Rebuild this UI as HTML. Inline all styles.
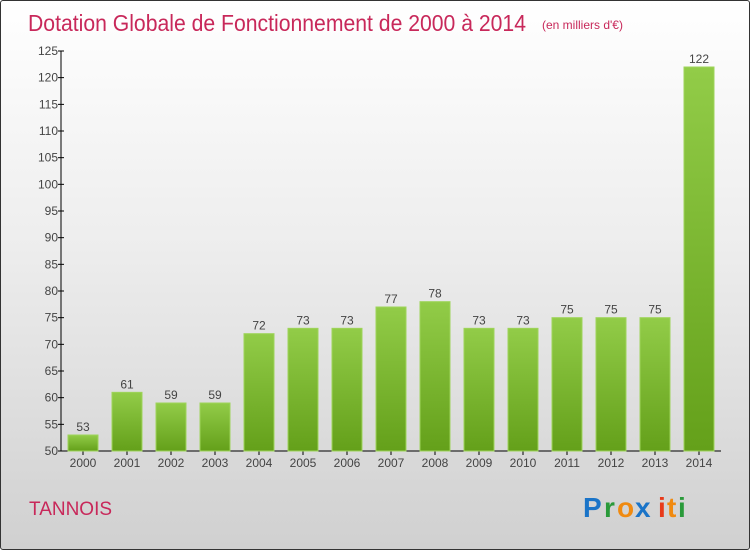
<!DOCTYPE html>
<html><head><meta charset="utf-8"><style>
body{margin:0;}
#c{width:750px;height:550px;position:relative;overflow:hidden;box-sizing:border-box;border:1px solid #333;border-radius:3px;background:linear-gradient(#ffffff 0%,#ededed 45%,#d0d0d0 100%);font-family:"Liberation Sans",sans-serif;}
</style></head><body>
<div id="c">
<svg width="750" height="550" style="position:absolute;left:0;top:0">
<defs><linearGradient id="g" x1="0" y1="0" x2="0" y2="1"><stop offset="0" stop-color="#92cc48"/><stop offset="1" stop-color="#64a01a"/></linearGradient></defs>
<text x="27" y="30" font-size="23" fill="#c8285a" textLength="498" lengthAdjust="spacingAndGlyphs">Dotation Globale de Fonctionnement de 2000 à 2014</text>
<text x="541" y="28" font-size="12" fill="#c8285a">(en milliers d'€)</text>
<g id="axes"></g><g id="bars"></g>
<text x="28" y="514" font-size="19" fill="#c8285a">TANNOIS</text>
<g font-size="28" font-weight="bold">
<text x="582" y="516" fill="#1a74c8">P</text><text x="603" y="516" fill="#2a9a3a">r</text><text x="616" y="516" fill="#f08a10">o</text><text x="634" y="516" fill="#1a74c8">x</text><text x="657" y="516" fill="#e83a1a">i</text><text x="666" y="516" fill="#f08a10">t</text><text x="677" y="516" fill="#2a9a3a">i</text>
</g>
</svg>
</div>
<script>
const years=["2000","2001","2002","2003","2004","2005","2006","2007","2008","2009","2010","2011","2012","2013","2014"];
const values=[53,61,59,59,72,73,73,77,78,73,73,75,75,75,122];
const yTicks=[50,55,60,65,70,75,80,85,90,95,100,105,110,115,120,125];
const NS="http://www.w3.org/2000/svg";
const y=v=>450-(v-50)*400/75;
const x=i=>82+i*44;
function mk(t,a,p){const e=document.createElementNS(NS,t);for(const k in a)e.setAttribute(k,a[k]);p.appendChild(e);return e;}
const ax=document.getElementById('axes'),bg=document.getElementById('bars');
const yl=mk('line',{x1:60,y1:50,x2:60,y2:450,stroke:'#000','stroke-width':1},ax);


const xl=mk('line',{x1:60,y1:450,x2:720,y2:450,stroke:'#000','stroke-width':1},ax);


yTicks.forEach(v=>{
 mk('line',{x1:57,y1:y(v),x2:63,y2:y(v),stroke:'#000'},ax);
 const t=mk('text',{x:57,y:y(v)+4,'font-size':12,fill:'#444','text-anchor':'end'},ax);t.textContent=v;
 
 
});
years.forEach((yr,i)=>{
 mk('line',{x1:x(i),y1:450,x2:x(i),y2:454,stroke:'#000'},ax);
 const t=mk('text',{x:x(i),y:466,'font-size':12,fill:'#444','text-anchor':'middle'},ax);t.textContent=yr;
 
 
 const b=mk('rect',{x:x(i)-15,y:y(values[i]),width:30,height:450-y(values[i]),fill:'url(#g)',stroke:'#9ed45a','stroke-width':1},bg);
 
 
 const l=mk('text',{x:x(i),y:y(values[i])-4,'font-size':12,fill:'#444','text-anchor':'middle'},bg);l.textContent=values[i];
 
 
});
</script>
</body></html>
